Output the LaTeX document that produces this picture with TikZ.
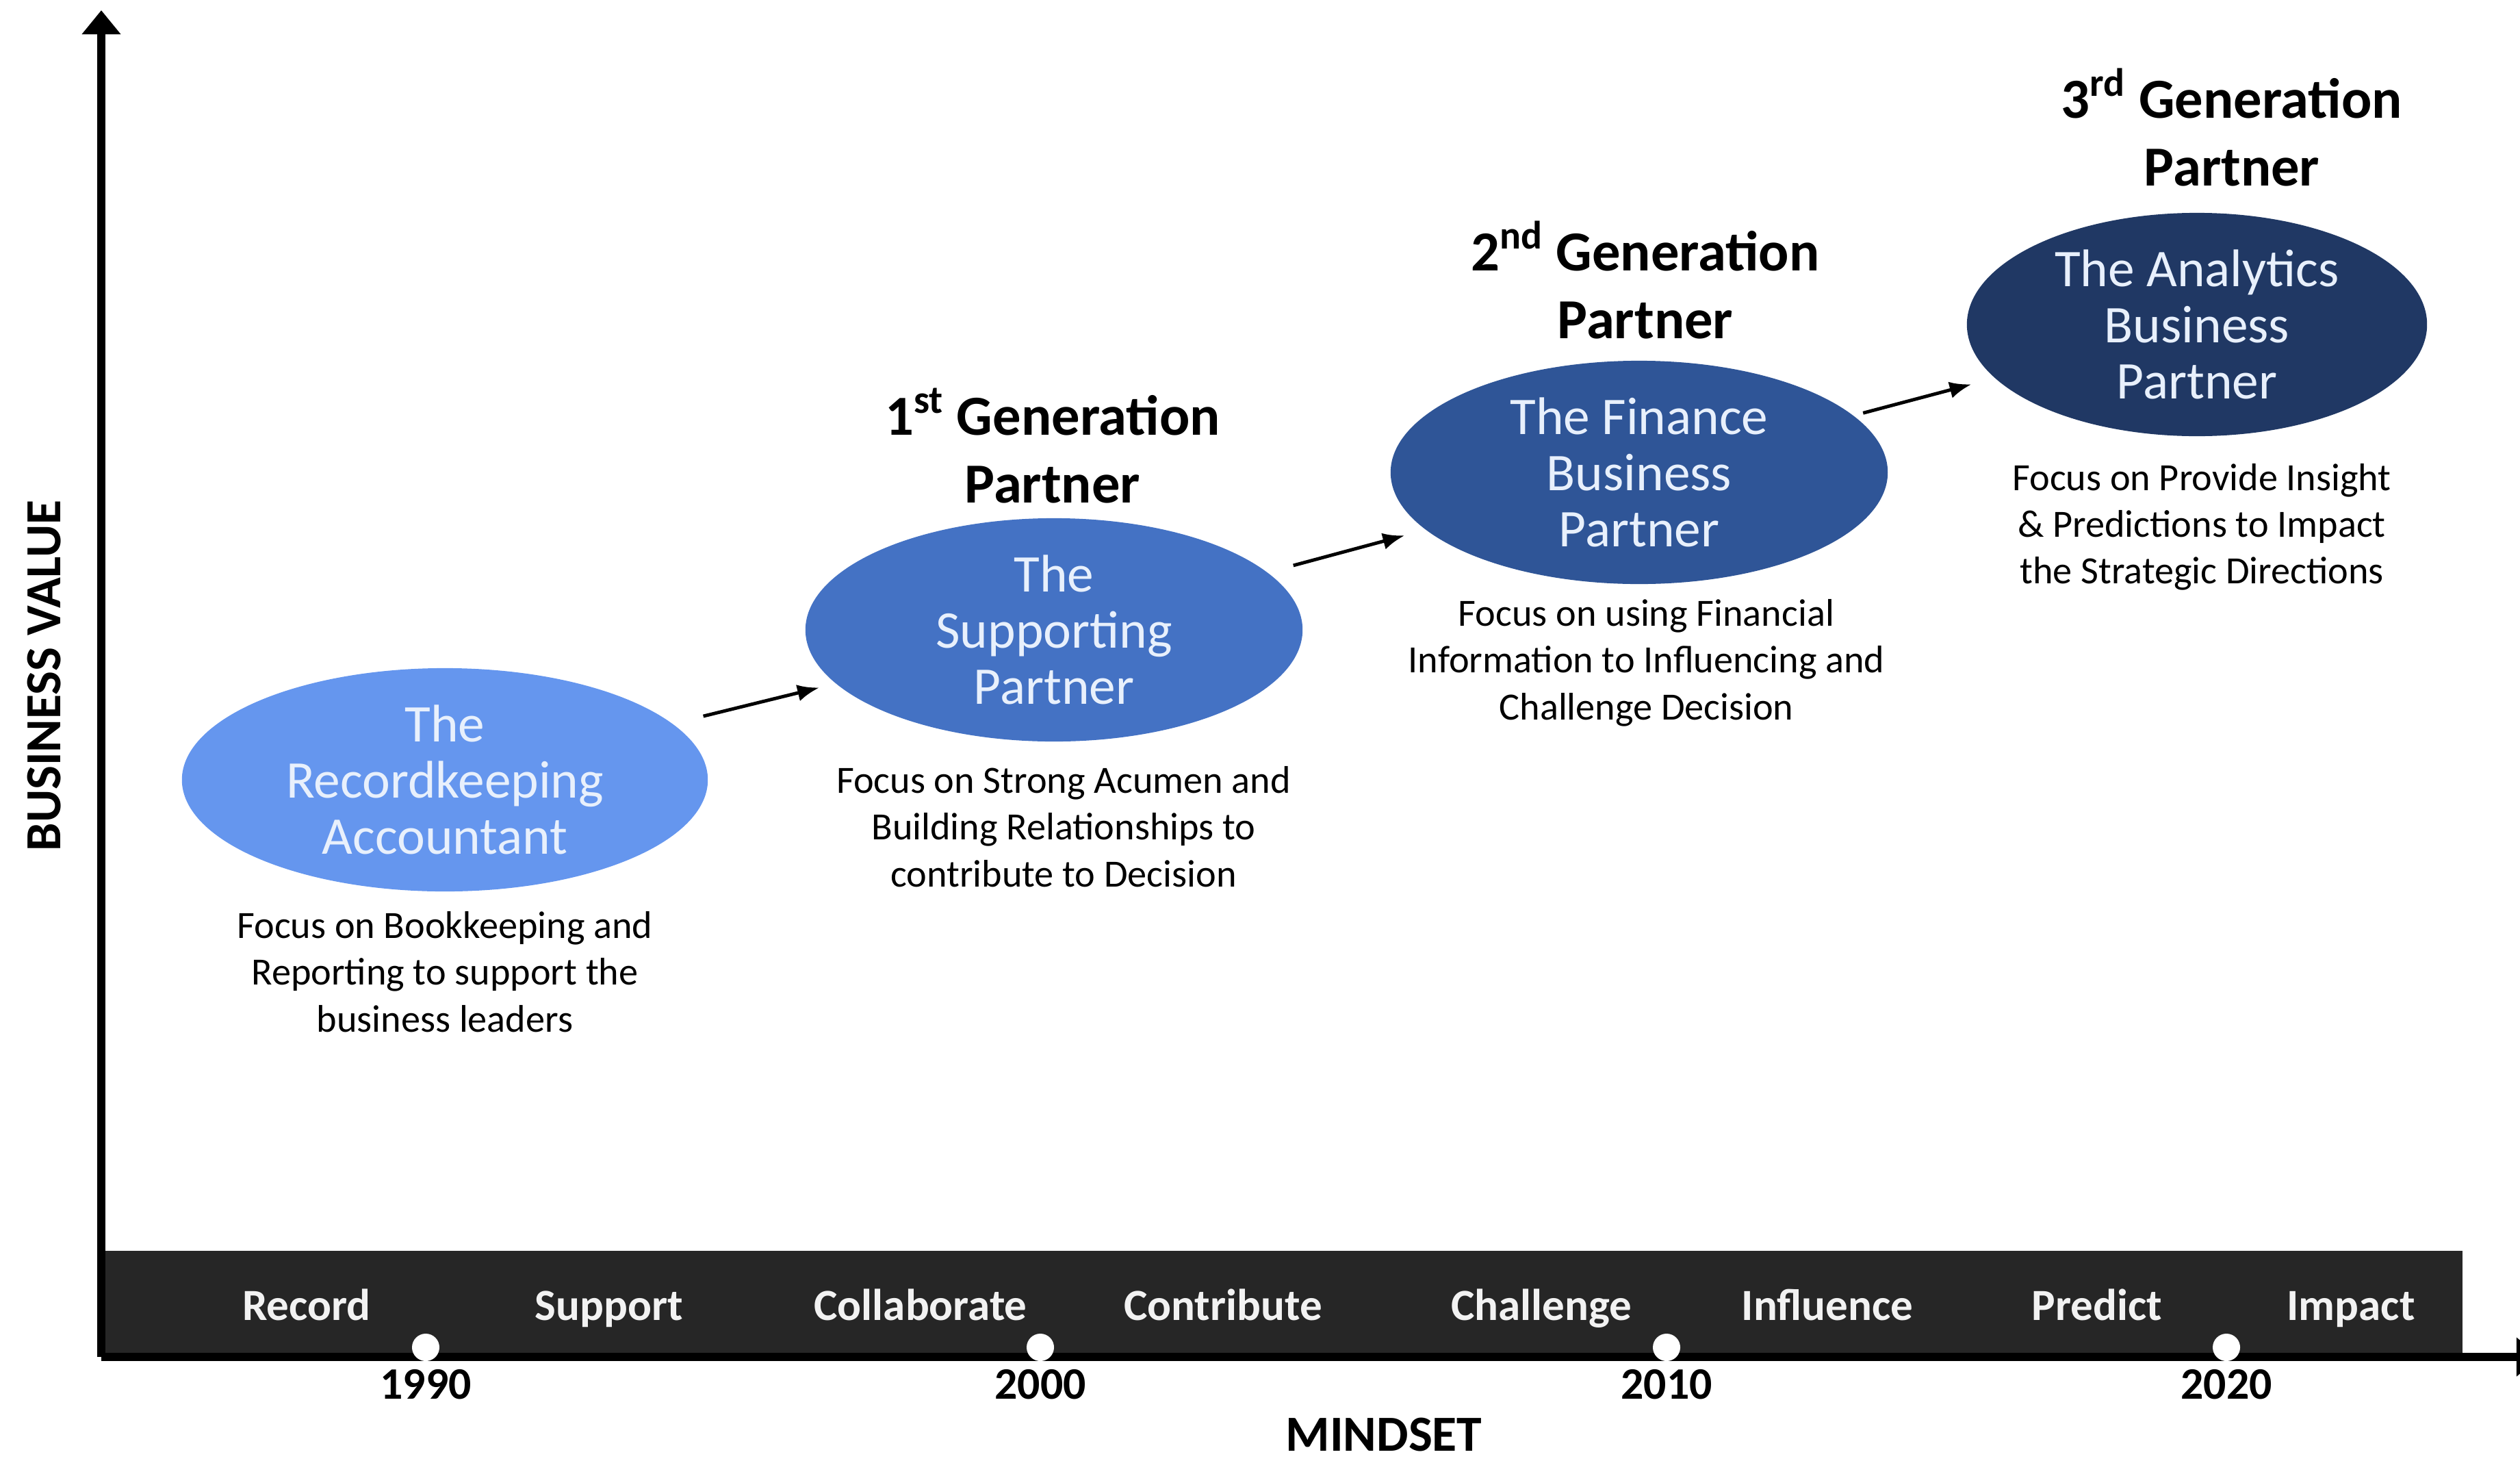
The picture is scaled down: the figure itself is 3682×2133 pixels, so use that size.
\documentclass[tikz,border=0pt]{standalone}
\usepackage{fontspec}
\setmainfont{Carlito}
\usetikzlibrary{positioning,shapes,arrows.meta}
\definecolor{rkblue}{RGB}{101,150,238}
\definecolor{spblue}{RGB}{68,114,196}
\definecolor{fiblue}{RGB}{47,85,151}
\definecolor{anblue}{RGB}{32,56,100}
\definecolor{bargray}{RGB}{38,38,38}
\definecolor{roletext}{RGB}{232,240,252}
\tikzstyle{rolebox}=[ellipse, inner xsep=0pt, inner ysep=-6pt, minimum height=3.26cm,
                     text=roletext, align=center, font=\fontsize{22}{23.4}\selectfont]
\tikzstyle{genlabel}=[align=center, inner sep=0pt, font=\fontsize{23.5}{28}\selectfont\bfseries]
\tikzstyle{focustext}=[align=center, inner sep=0pt, font=\fontsize{16}{19.4}\selectfont]
\tikzstyle{barword}=[anchor=base, inner sep=0pt, text=white!95!black,
                     font=\fontsize{18.5}{22}\selectfont\bfseries]
\tikzstyle{yeardot}=[circle, fill=white, inner sep=0pt, minimum size=0.4cm]
\tikzstyle{yearlabel}=[inner sep=0pt, font=\fontsize{18.7}{22}\selectfont\bfseries]
\tikzstyle{axistitle}=[inner sep=0pt, font=\fontsize{21}{24}\selectfont\bfseries]
\tikzstyle{axisline}=[line width=3.2pt, -{Triangle[length=10pt,width=15.6pt]}]
\tikzstyle{flowarrow}=[line width=1.4pt, -{Latex[length=9pt,width=7pt]}]

\begin{document}
\begin{tikzpicture}[x=0.01cm, y=-0.01cm]
\useasboundingbox (0,0) rectangle (3682,2133);

% the dark mindset band
\node (band) [fill=bargray, minimum width=34.47cm, minimum height=1.54cm, inner sep=0pt,
  anchor=south west] at (148,1982) {};

\node (REC) [barword] at (448,1928) {Record};
\node (SUP) [barword] at (890,1928) {Support};
\node (COL) [barword] at (1345,1928) {Collaborate};
\node (CON) [barword] at (1787,1928) {Contribute};
\node (CHA) [barword] at (2252,1928) {Challenge};
\node (INF) [barword] at (2670,1928) {Influence};
\node (PRE) [barword] at (3064,1928) {Predict};
\node (IMP) [barword] at (3435,1928) {Impact};

% axes
\coordinate (origin) at (148,1982);
\coordinate (ytip) at (148,15);
\coordinate (xtip) at (3712,1982);
\draw[axisline] (origin) -- (ytip);
\draw[axisline] (origin) -- (xtip);

\node (D1990) [yeardot] at (622,1968) {};
\node (Y1990) [yearlabel, below=3pt of D1990] {1990};
\node (D2000) [yeardot] at (1520,1968) {};
\node (Y2000) [yearlabel, below=3pt of D2000] {2000};
\node (D2010) [yeardot] at (2435,1968) {};
\node (Y2010) [yearlabel, below=3pt of D2010] {2010};
\node (D2020) [yeardot] at (3253,1968) {};
\node (Y2020) [yearlabel, below=3pt of D2020] {2020};

\node (MIND) [axistitle, anchor=base] at (2022,2119) {MINDSET};
\node (BVAL) [axistitle, rotate=90] at (65,987) {BUSINESS VALUE};

% the four roles
\node (rk) [rolebox, fill=rkblue, minimum width=7.68cm] at (650,1139) {The\\Recordkeeping\\Accountant};
\node (sp) [rolebox, fill=spblue, minimum width=7.26cm] at (1540,920) {The\\Supporting\\Partner};
\node (fi) [rolebox, fill=fiblue, minimum width=7.26cm] at (2395,690) {The Finance\\Business\\Partner};
\node (an) [rolebox, fill=anblue, minimum width=6.72cm] at (3210,474) {The Analytics\\Business\\Partner};

\node (GEN1) [genlabel] at (1538,651) {1\textsuperscript{st} Generation\\Partner};
\node (GEN2) [genlabel] at (2404,409) {2\textsuperscript{nd} Generation\\Partner};
\node (GEN3) [genlabel] at (3261,186) {3\textsuperscript{rd} Generation\\Partner};

\node (rkfocus) [focustext, below=8pt of rk] {Focus on Bookkeeping and\\Reporting to support the\\business leaders};
\node (spfocus) [focustext, below=10pt of sp, xshift=4pt] {Focus on Strong Acumen and\\Building Relationships to\\contribute to Decision};
\node (fifocus) [focustext, below=6pt of fi, xshift=3pt] {Focus on using Financial\\Information to Influencing and\\Challenge Decision};
\node (anfocus) [focustext, below=11pt of an, xshift=2pt] {Focus on Provide Insight\\\& Predictions to Impact\\the Strategic Directions};

\draw[flowarrow, shorten <=13pt, shorten >=7pt] (rk) -- (sp);
\draw[flowarrow, shorten <=11pt, shorten >=9pt] (sp) -- (fi);
\draw[flowarrow, shorten <=4pt, shorten >=10pt] (fi) -- (an);

\end{tikzpicture}
\end{document}
